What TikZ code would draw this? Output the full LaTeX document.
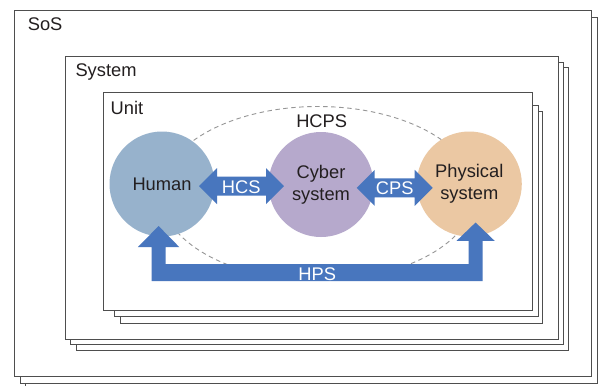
\documentclass[tikz,border=0pt]{standalone}
\usepackage{fontspec}
\setmainfont{Liberation Sans}
\usetikzlibrary{calc}

\definecolor{frameline}{RGB}{78,78,78}
\definecolor{humanfill}{RGB}{151,178,204}
\definecolor{cyberfill}{RGB}{182,169,204}
\definecolor{physfill}{RGB}{235,200,163}
\definecolor{flowblue}{RGB}{72,118,190}
\definecolor{dashgray}{RGB}{150,150,150}
\definecolor{inktext}{RGB}{35,31,32}

\tikzset{
  frame/.style={draw=frameline, fill=white, line width=1pt},
  framelabel/.style={anchor=base west, inner sep=0pt, text=inktext},
  sphere/.style={circle, minimum size=105pt, inner sep=0pt, text=inktext, align=center},
  flow/.style={fill=flowblue},
  flowlabel/.style={text=white, inner sep=0pt},
}

% double-headed block arrow between two named points
\newcommand\fatdouble[2]{%
  \fill[flow] let \p1=(#1), \p2=(#2) in
    (\x1,\y1) -- (\x1+18pt,\y1+18pt) -- (\x1+18pt,\y1+9.5pt)
    -- (\x2-18pt,\y2+9.5pt) -- (\x2-18pt,\y2+18pt) -- (\x2,\y2)
    -- (\x2-18pt,\y2-18pt) -- (\x2-18pt,\y2-9.5pt)
    -- (\x1+18pt,\y1-9.5pt) -- (\x1+18pt,\y1-18pt) -- cycle;}

\begin{document}
\begin{tikzpicture}[x=1pt, y=-1pt,
  every node/.style={font=\fontsize{18.3}{21.7}\selectfont}]
\useasboundingbox (0,0) rectangle (598,386);

% SoS stack
\draw[frame] (25.7,22.3) rectangle (603,388.5);
\draw[frame] (20.7,17) rectangle (597.3,383.3);
\draw[frame] (14,10.3) rectangle (591.5,376);
\node[framelabel] (soslbl) at (27.6,30) {SoS};

% System stack
\draw[frame] (76,67.3) rectangle (568.3,350);
\draw[frame] (70.3,62) rectangle (563,344.3);
\draw[frame] (65.7,56.7) rectangle (558,339);
\node[framelabel] (syslbl) at (75.3,76.6) {System};

% Unit stack
\draw[frame] (120.3,111.7) rectangle (542.7,323.3);
\draw[frame] (114.3,105.3) rectangle (538,316.7);
\draw[frame] (103.7,92.3) rectangle (532.3,310);
\node[framelabel] (unitlbl) at (110.5,114) {Unit};

% HCPS boundary
\draw[dashgray, line width=0.9pt, dash pattern=on 4.5pt off 3.5pt]
  (318,193.5) ellipse [x radius=157, y radius=87];
\node[anchor=base, inner sep=0pt, text=inktext] (hcps) at (321.7,127.3) {HCPS};

% the three subsystems
\node[sphere, fill=humanfill] (human) at (162,184) {Human};
\node[sphere, fill=cyberfill] (cyber) at (321,184.5) {Cyber\\system};
\node[sphere, fill=physfill] (phys) at (469.3,184) {Physical\\system};

% HCS and CPS links
\coordinate (hcsA) at (199,186);
\coordinate (hcsB) at (284,186);
\fatdouble{hcsA}{hcsB}
\node[flowlabel] (hcs) at (241.2,187) {HCS};

\coordinate (cpsA) at (356.7,187.8);
\coordinate (cpsB) at (432.7,187.8);
\fatdouble{cpsA}{cpsB}
\node[flowlabel] (cps) at (394.7,188.2) {CPS};

% HPS link running under the cyber system
\coordinate (hpsA) at (158.6,226);
\coordinate (hpsB) at (475.6,222.5);
\coordinate (hpsTop) at (0,264);
\coordinate (hpsBot) at (0,281);
\fill[flow] let \p1=(hpsA), \p2=(hpsB), \p3=(hpsTop), \p4=(hpsBot) in
  (\x1,\y1) -- (\x1+20.8pt,\y1-21.2pt) -- (\x1+7pt,\y1-21.2pt)
  -- (\x1+7pt,\y3) -- (\x2-7pt,\y3) -- (\x2-7pt,\y2-18.3pt)
  -- (\x2-19pt,\y2-18.3pt) -- (\x2,\y2) -- (\x2+19pt,\y2-18.3pt)
  -- (\x2+7pt,\y2-18.3pt) -- (\x2+7pt,\y4) -- (\x1-7pt,\y4)
  -- (\x1-7pt,\y1-21.2pt) -- (\x1-20.8pt,\y1-21.2pt) -- cycle;
\node[flowlabel] (hps) at (317.2,274) {HPS};
\end{tikzpicture}
\end{document}
